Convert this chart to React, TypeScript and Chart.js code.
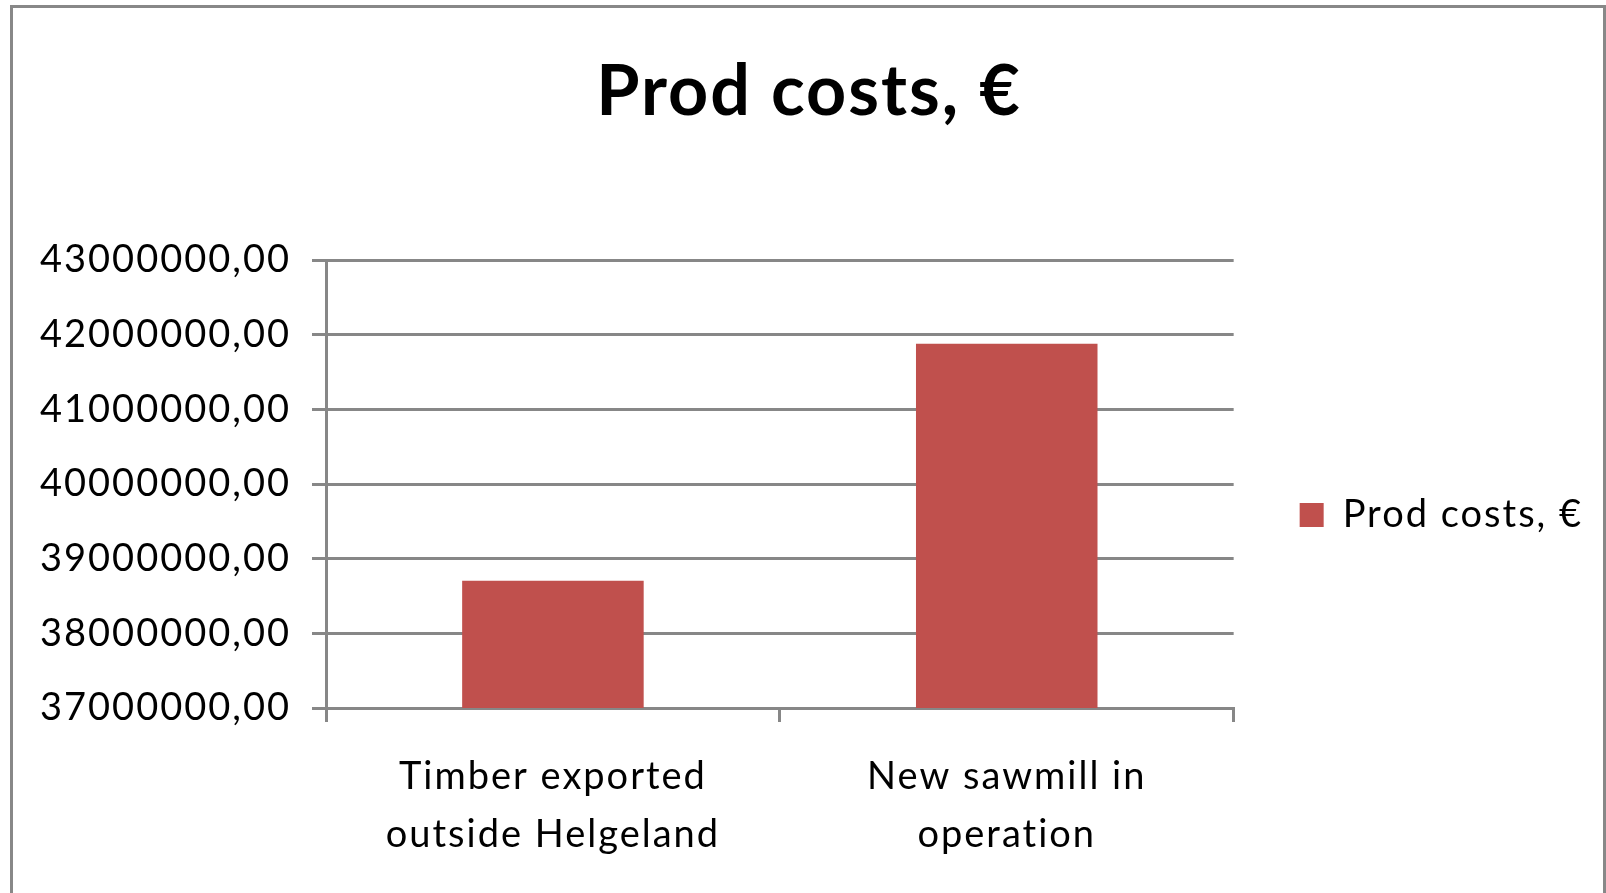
import React, { useEffect, useRef } from 'react';
import { Chart, registerables } from 'chart.js';

Chart.register(...registerables);

// ---- data ----
const CATEGORIES: string[][] = [
  ['Timber exported', 'outside Helgeland'],
  ['New sawmill in', 'operation'],
];
const SERIES_LABEL = 'Prod costs, €';
const PROD_COSTS: number[] = [38705000, 41880000];
const TITLE = 'Prod costs, €';
const Y_MIN = 37000000;
const Y_MAX = 43000000;
const Y_STEP = 1000000;

// ---- style ----
const FONT = 'Lato';
const GRID = '#878787';
const BAR = '#C0504D';
const SPACING = '2px';

const spacingPlugin = {
  id: 'letterSpacing',
  beforeLayout(chart: any) {
    chart.ctx.letterSpacing = SPACING;
  },
  beforeDraw(chart: any) {
    chart.ctx.letterSpacing = SPACING;
  },
};

export default function App() {
  const ref = useRef<HTMLCanvasElement | null>(null);

  useEffect(() => {
    let chart: Chart | null = null;
    let cancelled = false;
    const make = () => {
      if (cancelled || !ref.current) return;
      chart = new Chart(ref.current, {
        type: 'bar',
        data: {
          labels: CATEGORIES,
          datasets: [
            {
              label: SERIES_LABEL,
              data: PROD_COSTS,
              backgroundColor: BAR,
              borderWidth: 0,
              barPercentage: 0.4,
              categoryPercentage: 1,
            },
          ],
        },
        options: {
          animation: false,
          responsive: false,
          devicePixelRatio: 1,
          layout: { padding: { top: 8, left: 25, right: 13, bottom: 0 } },
          plugins: {
            title: {
              display: true,
              text: TITLE,
              color: '#000',
              font: { family: FONT, size: 70, weight: 'bold', lineHeight: 1.2 },
              padding: { top: 42, bottom: 126 },
            },
            legend: {
              position: 'right',
              labels: {
                boxWidth: 24,
                boxHeight: 24,
                padding: 66,
                color: '#000',
                font: { family: FONT, size: 38 },
              },
            },
            tooltip: { enabled: false },
          },
          scales: {
            x: {
              grid: {
                display: true,
                drawOnChartArea: false,
                drawTicks: true,
                tickLength: 14,
                color: GRID,
                lineWidth: 3,
                offset: true,
              },
              border: { display: true, color: GRID, width: 3 },
              ticks: {
                color: '#000',
                font: { family: FONT, size: 38, lineHeight: 1.54 },
                padding: 25,
                maxRotation: 0,
                autoSkip: false,
              },
              afterFit: (s: any) => {
                s.height = 314;
              },
            },
            y: {
              min: Y_MIN,
              max: Y_MAX,
              grid: { color: GRID, lineWidth: 3, tickLength: 14, drawTicks: true },
              border: { display: true, color: GRID, width: 3 },
              ticks: {
                stepSize: Y_STEP,
                color: '#000',
                font: { family: FONT, size: 38 },
                padding: 21,
                callback: (v: any) => Number(v).toFixed(2).replace('.', ','),
              },
              afterFit: (s: any) => {
                s.width = 301;
              },
            },
          },
        },
        plugins: [spacingPlugin],
      });
    };
    const fontsReady = (document as any).fonts
      ? Promise.all([
          (document as any).fonts.load('38px Lato'),
          (document as any).fonts.load('bold 70px Lato'),
        ]).catch(() => null)
      : Promise.resolve(null);
    fontsReady.then(make);
    return () => {
      cancelled = true;
      if (chart) chart.destroy();
    };
  }, []);

  return (
    <div
      style={{
        position: 'fixed',
        left: 0,
        top: 0,
        width: 1606,
        height: 893,
        overflow: 'hidden',
        background: '#fff',
      }}
    >
      <canvas
        ref={ref}
        width={1606}
        height={1022}
        style={{ position: 'absolute', left: 0, top: 0, display: 'block' }}
      />
      <div
        style={{
          position: 'absolute',
          left: 10,
          top: 5,
          width: 1596,
          height: 1100,
          border: '3px solid #888888',
          boxSizing: 'border-box',
          pointerEvents: 'none',
        }}
      />
    </div>
  );
}
